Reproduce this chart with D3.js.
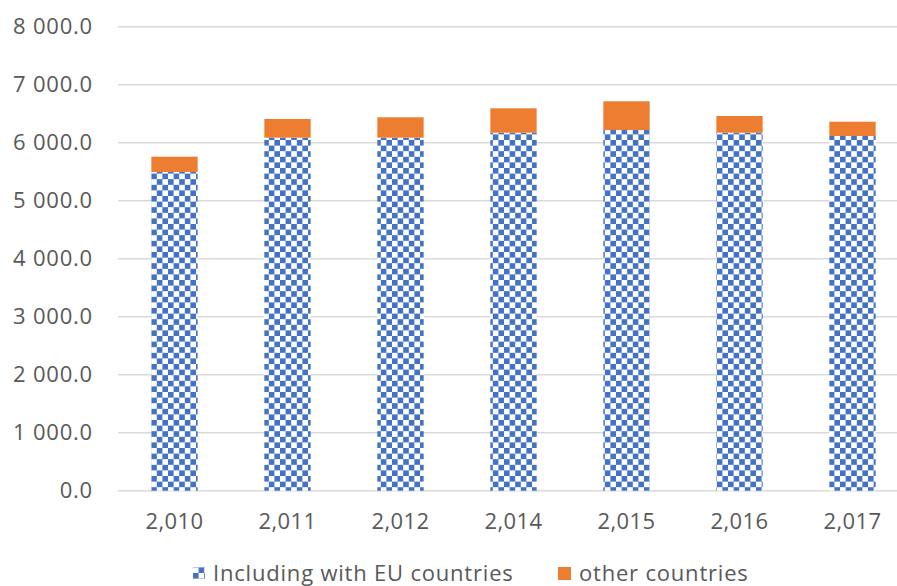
<!DOCTYPE html>
<html>
<head>
<meta charset="utf-8">
<script src="https://cdn.jsdelivr.net/npm/d3@7"></script>
<style>
  body { margin: 0; background: #fff; }
  text { font-family: "Open Sans", "Noto Sans", sans-serif; fill: #595959; }
</style>
</head>
<body>
<svg id="chart"></svg>
<script>
const years = ["2,010", "2,011", "2,012", "2,014", "2,015", "2,016", "2,017"];
const euValues = [5495, 6086, 6086, 6172, 6219, 6172, 6116];
const otherValues = [264, 323, 352, 421, 495, 288, 246];
const yTicks = [0, 1000, 2000, 3000, 4000, 5000, 6000, 7000, 8000];
const seriesNames = ["Including with EU countries", "other countries"];

const width = 897, height = 586;
const margin = { top: 26.7, right: -12, bottom: 95.3, left: 118 };
const fontSize = "22px";

const svg = d3.select("#chart")
    .attr("width", width)
    .attr("height", height)

// checkerboard pattern for the EU series
const cell = 5.6;
const pat = svg.append("defs").append("pattern")
    .attr("id", "checker")
    .attr("patternUnits", "userSpaceOnUse")
    .attr("width", cell * 2)
    .attr("height", cell * 2)
pat.append("rect").attr("width", cell * 2).attr("height", cell * 2).attr("fill", "#fff")
pat.append("rect").attr("width", cell).attr("height", cell).attr("fill", "#4472c4")
pat.append("rect").attr("x", cell).attr("y", cell).attr("width", cell).attr("height", cell).attr("fill", "#4472c4")

const x = d3.scaleBand()
    .domain(years)
    .range([margin.left, width - margin.right])
    .paddingInner(0.59)
    .paddingOuter(0.295)

const y = d3.scaleLinear()
    .domain([0, 8000])
    .range([height - margin.bottom, margin.top])

const fmt = v => d3.format(",.1f")(v).replace(/,/g, " ")

// gridlines
svg.append("g")
    .selectAll("line")
    .data(yTicks)
    .join("line")
    .attr("x1", margin.left)
    .attr("x2", width - margin.right)
    .attr("y1", d => y(d))
    .attr("y2", d => y(d))
    .attr("stroke", "#d9d9d9")
    .attr("stroke-width", 1.5)

// y axis labels
const yAxis = svg.append("g")
    .attr("transform", "translate(" + (margin.left - 25) + ",0)")
    .call(d3.axisLeft(y).tickValues(yTicks).tickFormat(fmt).tickSize(0).tickPadding(0))
yAxis.select(".domain").remove()
yAxis.selectAll("text")
    .attr("fill", "#595959")
    .style("font-size", fontSize)
    .style("letter-spacing", "0.8px")
    .attr("font-family", null)

// x axis labels
const xAxis = svg.append("g")
    .attr("transform", "translate(0," + y(0) + ")")
    .call(d3.axisBottom(x).tickSize(0).tickPadding(23))
xAxis.select(".domain").remove()
xAxis.selectAll("text")
    .attr("fill", "#595959")
    .style("font-size", fontSize)
    .style("letter-spacing", "0.4px")
    .attr("font-family", null)

// bars
const bars = svg.append("g")
bars.selectAll("rect.eu")
    .data(years)
    .join("rect")
    .attr("class", "eu")
    .attr("x", d => x(d))
    .attr("width", x.bandwidth())
    .attr("y", (d, i) => y(euValues[i]))
    .attr("height", (d, i) => y(0) - y(euValues[i]))
    .attr("fill", "url(#checker)")

bars.selectAll("rect.other")
    .data(years)
    .join("rect")
    .attr("class", "other")
    .attr("x", d => x(d))
    .attr("width", x.bandwidth())
    .attr("y", (d, i) => y(euValues[i] + otherValues[i]))
    .attr("height", (d, i) => y(euValues[i]) - y(euValues[i] + otherValues[i]))
    .attr("fill", "#ed7d31")

// legend
const legend = svg.append("g").attr("transform", "translate(193,573)")
legend.append("rect")
    .attr("x", 0).attr("y", -6).attr("width", 12).attr("height", 12)
    .attr("fill", "url(#checker)")
legend.append("text")
    .attr("x", 20).attr("y", 0).attr("dy", "0.35em")
    .style("font-size", fontSize)
    .style("letter-spacing", "0.8px")
    .text(seriesNames[0])
legend.append("rect")
    .attr("x", 365).attr("y", -6).attr("width", 13).attr("height", 13)
    .attr("fill", "#ed7d31")
legend.append("text")
    .attr("x", 386).attr("y", 0).attr("dy", "0.35em")
    .style("font-size", fontSize)
    .style("letter-spacing", "0.8px")
    .text(seriesNames[1])
</script>
</body>
</html>
